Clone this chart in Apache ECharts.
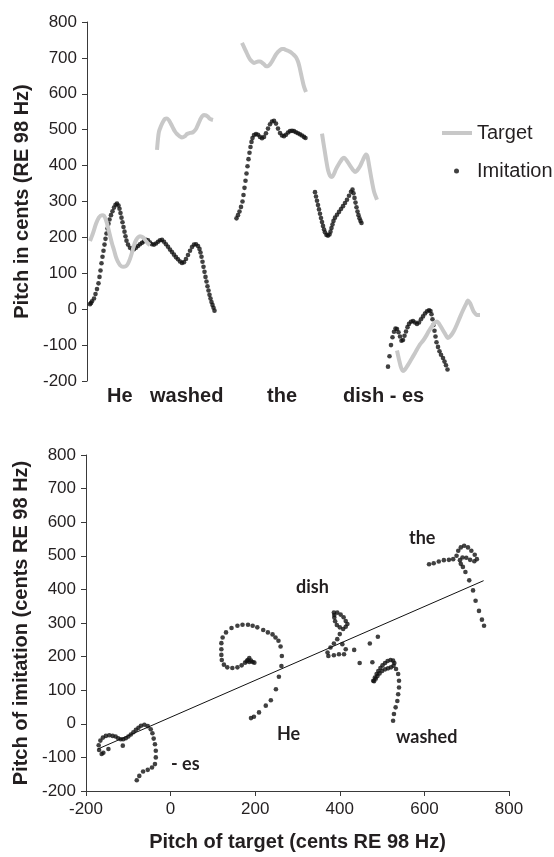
<!DOCTYPE html>
<html>
<head>
<meta charset="utf-8">
<script src="https://cdn.jsdelivr.net/npm/echarts@6/dist/echarts.min.js"></script>
<style>
  html, body { margin: 0; padding: 0; background: #fff; }
  #chart { width: 554px; height: 857px; }
</style>
</head>
<body>
<div id="chart"></div>
<script>
// top panel: pitch over time, [frame, cents]
const targetHe = [[3,190],[6,212],[9,238],[12,256],[15,262],[17,260],[19,248],[21,228],[23,205],[25,183],[27,165],[29,145],[31,132],[33,123],[36,118],[39,120],[41,127],[43,140],[45,158],[47,178],[49,192],[51,200],[53,203],[56,200],[59,190],[61,183],[63,179]]
const targetWashed = [[70,444],[71,475],[72,495],[74,510],[76,522],[78,530],[80,531],[82,526],[84,516],[86,505],[88,495],[90,488],[93,481],[95,478],[98,482],[100,488],[103,491],[106,493],[109,502],[111,514],[113,527],[115,537],[117,541],[119,540],[121,536],[123,530],[126,527]]
const targetThe = [[155,742],[157,730],[159,718],[161,706],[163,696],[165,690],[167,686],[169,688],[171,690],[173,690],[175,687],[177,682],[179,677],[181,677],[183,682],[185,690],[187,700],[189,710],[191,717],[193,722],[195,725],[197,725],[199,722],[201,720],[203,717],[205,713],[207,708],[209,702],[211,690],[212.5,675],[214,656],[215.5,637],[217,620],[219,605]]
const targetDish = [[235,489],[236.5,462],[238,436],[239.5,410],[241,388],[243,372],[245,368],[247,377],[249,390],[252,405],[255,418],[257,422],[260,413],[263,400],[266,388],[268,382],[270,386],[273,398],[276,416],[279,431],[280.5,425],[282,402],[283.5,378],[285,355],[287,328],[290,305]]
const targetEs = [[310,-115],[312,-140],[314,-162],[316,-172],[318,-168],[321,-155],[324,-141],[327,-127],[330,-112],[333,-98],[336,-88],[339,-75],[342,-60],[345,-47],[348,-37],[350,-34],[352,-40],[355,-54],[358,-68],[361,-80],[364,-73],[367,-60],[370,-42],[373,-22],[376,-3],[379,14],[381,24],[383,17],[385,4],[387,-8],[390,-16],[393,-16]]

const imitHeWashed = [[3,14],[4,17],[5,22],[7,30],[8.5,42],[10,56],[11.5,72],[12.5,90],[13.5,108],[14.5,128],[15.5,146],[16.5,163],[17.5,180],[18.5,196],[19.5,211],[20.5,225],[21.5,238],[22.5,250],[24,262],[25.5,273],[27,283],[28.5,291],[30,294],[31.5,289],[32.5,280],[33.5,268],[34.5,255],[35.5,242],[36.5,229],[37.5,216],[38.5,203],[39.5,191],[41,180],[43,171],[45,166],[47,167],[49,171],[51,176],[53,181],[55,185],[57,189],[59,193],[61,192],[63,186],[65,181],[67,180],[69,183],[71,188],[73,192],[75,193],[77,188],[79,181],[81,174],[83,166],[85,159],[87,152],[89,145],[91,139],[93,133],[95,129],[97,131],[99,140],[101,151],[103,163],[105,173],[107,180],[109,181],[111,176],[112.5,168],[113.5,158],[114.5,146],[115.5,132],[116.5,118],[117.5,104],[118.5,90],[119.5,77],[120.5,64],[121.5,52],[122.5,40],[123.5,30],[124.5,20],[125.5,12],[126.5,4],[127.5,-4]]
const imitThe = [[149.5,253],[151,262],[152.5,272],[154,285],[155.5,300],[156.5,318],[157.5,338],[158.5,358],[159.5,378],[160.5,398],[161.5,418],[162.5,436],[163.5,452],[164.5,466],[165.5,477],[167,485],[169,488],[171,486],[173,480],[175,476],[177,480],[179,490],[181,503],[183,515],[185,523],[187,525],[189,517],[191,503],[193,491],[195,484],[197,482],[199,486],[201,492],[203,496],[205,497],[207,496],[209,493],[211,490],[213,487],[215,484],[217,480],[218.5,477]]
const imitDish = [[228,326],[229,314],[230,302],[231,290],[232,278],[233,266],[234,254],[235,243],[236,232],[237,222],[238,214],[239.5,207],[241,205],[242.5,208],[243.5,216],[244.5,226],[245.5,236],[246.5,246],[248,255],[250,263],[252,271],[254,279],[256,287],[258,296],[260,305],[262,316],[264,327],[265.5,333],[266.5,323],[267.5,310],[268.5,297],[269.5,284],[270.5,272],[271.5,262],[272.5,253],[273.5,246],[274.5,240]]
const imitEs = [[301,-160],[302.5,-131],[304,-100],[305.5,-78],[307,-63],[308.5,-54],[310,-55],[311.5,-64],[313,-76],[314.5,-88],[316,-86],[317.5,-74],[319,-62],[320.5,-50],[322,-41],[324,-35],[326,-33],[328,-37],[330,-41],[332,-37],[334,-28],[336,-20],[338,-12],[340,-6],[342,-3],[343.5,-5],[344.5,-14],[345.5,-28],[346.5,-44],[347.5,-60],[348.5,-76],[349.5,-92],[351,-105],[352.5,-117],[354,-127],[356,-136],[357.5,-146],[359,-156],[360.5,-168]]

const words = ['He', 'washed', 'the', 'dish - es']

// bottom panel: [target, imitation] in cents
const scatterEs = [[-80,-168],[-74,-155],[-65,-142],[-54,-137],[-44,-130],[-37,-120],[-35,-100],[-35,-80],[-37,-61],[-40,-44],[-43,-28],[-47,-16],[-54,-7],[-62,-3],[-70,-6],[-76,-12],[-82,-18],[-88,-25],[-94,-32],[-100,-38],[-106,-43],[-112,-46],[-118,-46],[-124,-43],[-130,-38],[-137,-36],[-145,-34],[-153,-36],[-160,-41],[-166,-50],[-170,-64],[-169,-78],[-163,-90],[-159,-86],[-113,-65],[-147,-75]]
const scatterHe = [[190,17],[197,21],[209,34],[225,54],[237,70],[249,103],[256,140],[262,172],[263,202],[260,230],[255,247],[248,257],[241,266],[230,272],[219,279],[205,287],[194,292],[183,295],[170,295],[158,292],[144,285],[131,272],[123,257],[120,240],[120,222],[120,205],[121,190],[126,176],[134,168],[146,166],[158,168],[168,174],[176,182],[182,190],[186,196],[190,188],[194,184],[198,182],[186,184],[180,186]]
const scatterWashed = [[447,181],[477,183],[479,128],[483,138],[487,148],[491,157],[496,166],[501,174],[507,181],[513,187],[520,190],[526,188],[529,181],[527,173],[521,168],[514,165],[507,162],[500,157],[494,150],[489,142],[485,134],[481,127],[533,163],[538,148],[540,128],[540,108],[538,88],[536,68],[532,49],[528,29],[526,9]]
const scatterDish = [[386,331],[394,331],[402,325],[409,317],[414,306],[418,297],[414,289],[408,282],[400,287],[393,294],[389,305],[387,316],[387,324],[400,267],[394,252],[386,239],[378,227],[371,212],[373,202],[386,204],[398,207],[410,207],[406,237],[414,222],[434,220],[471,239],[490,259]]
const scatterThe = [[611,475],[622,478],[634,483],[646,487],[658,488],[668,490],[676,500],[680,515],[686,525],[694,530],[703,525],[711,515],[719,503],[724,490],[718,484],[708,488],[699,494],[690,495],[684,487],[686,476],[691,467],[697,452],[706,427],[715,397],[721,366],[729,336],[736,310],[741,292]]
const fitLine = [[-172,-75],[740,426]]

const pitchTicks = { min: -200, max: 800, interval: 100 }

const chart = echarts.init(document.getElementById('chart'))
const font = 'Liberation Sans, Arial, sans-serif'
const ink = '#231f20'
const dot = '#111'

function valueAxis(extra) {
  return Object.assign({
    type: 'value',
    axisLine: { show: true, onZero: false, lineStyle: { color: '#3a3a3a', width: 1 } },
    axisTick: { show: true, length: 5, lineStyle: { color: '#3a3a3a' } },
    splitLine: { show: false },
    axisLabel: { color: ink, fontSize: 17, fontFamily: font, margin: 10 },
    nameLocation: 'middle',
    nameTextStyle: { color: ink, fontSize: 20, fontWeight: 'bold', fontFamily: font }
  }, extra)
}

const targetSeries = [targetHe, targetWashed, targetThe, targetDish, targetEs].map(seg => ({
  name: 'Target', type: 'line', xAxisIndex: 0, yAxisIndex: 0,
  data: seg, showSymbol: false, smooth: 0.3,
  lineStyle: { color: '#c8c8c8', width: 4 }, itemStyle: { color: '#c8c8c8' }
}))
const imitSeries = {
  name: 'Imitation', type: 'scatter', xAxisIndex: 0, yAxisIndex: 0,
  data: [].concat(imitHeWashed, imitThe, imitDish, imitEs),
  symbol: 'circle', symbolSize: 4.6, itemStyle: { color: dot }
}
const scatterSeries = {
  type: 'scatter', xAxisIndex: 1, yAxisIndex: 1,
  data: [].concat(scatterEs, scatterHe, scatterWashed, scatterDish, scatterThe),
  symbol: 'circle', symbolSize: 4.6, itemStyle: { color: dot }
}
const fitSeries = {
  type: 'line', xAxisIndex: 1, yAxisIndex: 1, data: fitLine,
  showSymbol: false, lineStyle: { color: '#111', width: 1 }
}

function wordText(text, x, y, bottom) {
  return {
    type: 'text', x: x, y: y,
    style: {
      text: text, fill: ink, verticalAlign: 'middle',
      font: bottom ? 'bold 18px Lato, sans-serif' : 'bold 20px ' + font
    }
  }
}

chart.setOption({
  animation: false,
  grid: [
    { left: 87, top: 22, width: 400, height: 359 },
    { left: 86, top: 455, width: 423, height: 336 }
  ],
  legend: [
    { data: [{ name: 'Target', icon: 'rect' }], left: 437, top: 118, itemWidth: 30, itemHeight: 4,
      textStyle: { color: ink, fontSize: 20, fontFamily: font } },
    { data: [{ name: 'Imitation', icon: 'circle' }], left: 449, top: 156, itemWidth: 5, itemHeight: 5,
      textStyle: { color: ink, fontSize: 20, fontFamily: font, padding: [0, 0, 0, 13] } }
  ],
  xAxis: [
    { type: 'value', gridIndex: 0, min: 0, max: 400, show: false },
    valueAxis({ gridIndex: 1, min: -200, max: 800, interval: 200,
      name: 'Pitch of target (cents RE 98 Hz)', nameGap: 41 })
  ],
  yAxis: [
    valueAxis(Object.assign({ gridIndex: 0, name: 'Pitch in cents (RE 98 Hz)', nameGap: 55 }, pitchTicks)),
    valueAxis(Object.assign({ gridIndex: 1, name: 'Pitch of imitation (cents RE 98 Hz)', nameGap: 54 }, pitchTicks))
  ],
  series: targetSeries.concat([imitSeries, scatterSeries, fitSeries]),
  graphic: [
    wordText(words[0], 107, 396),
    wordText(words[1], 150, 396),
    wordText(words[2], 267, 396),
    wordText(words[3], 343, 396),
    wordText('the', 409, 538, true),
    wordText('dish', 296, 587, true),
    wordText('He', 277, 734, true),
    wordText('washed', 396, 737, true),
    wordText('- es', 171, 764, true)
  ]
})
</script>
</body>
</html>
